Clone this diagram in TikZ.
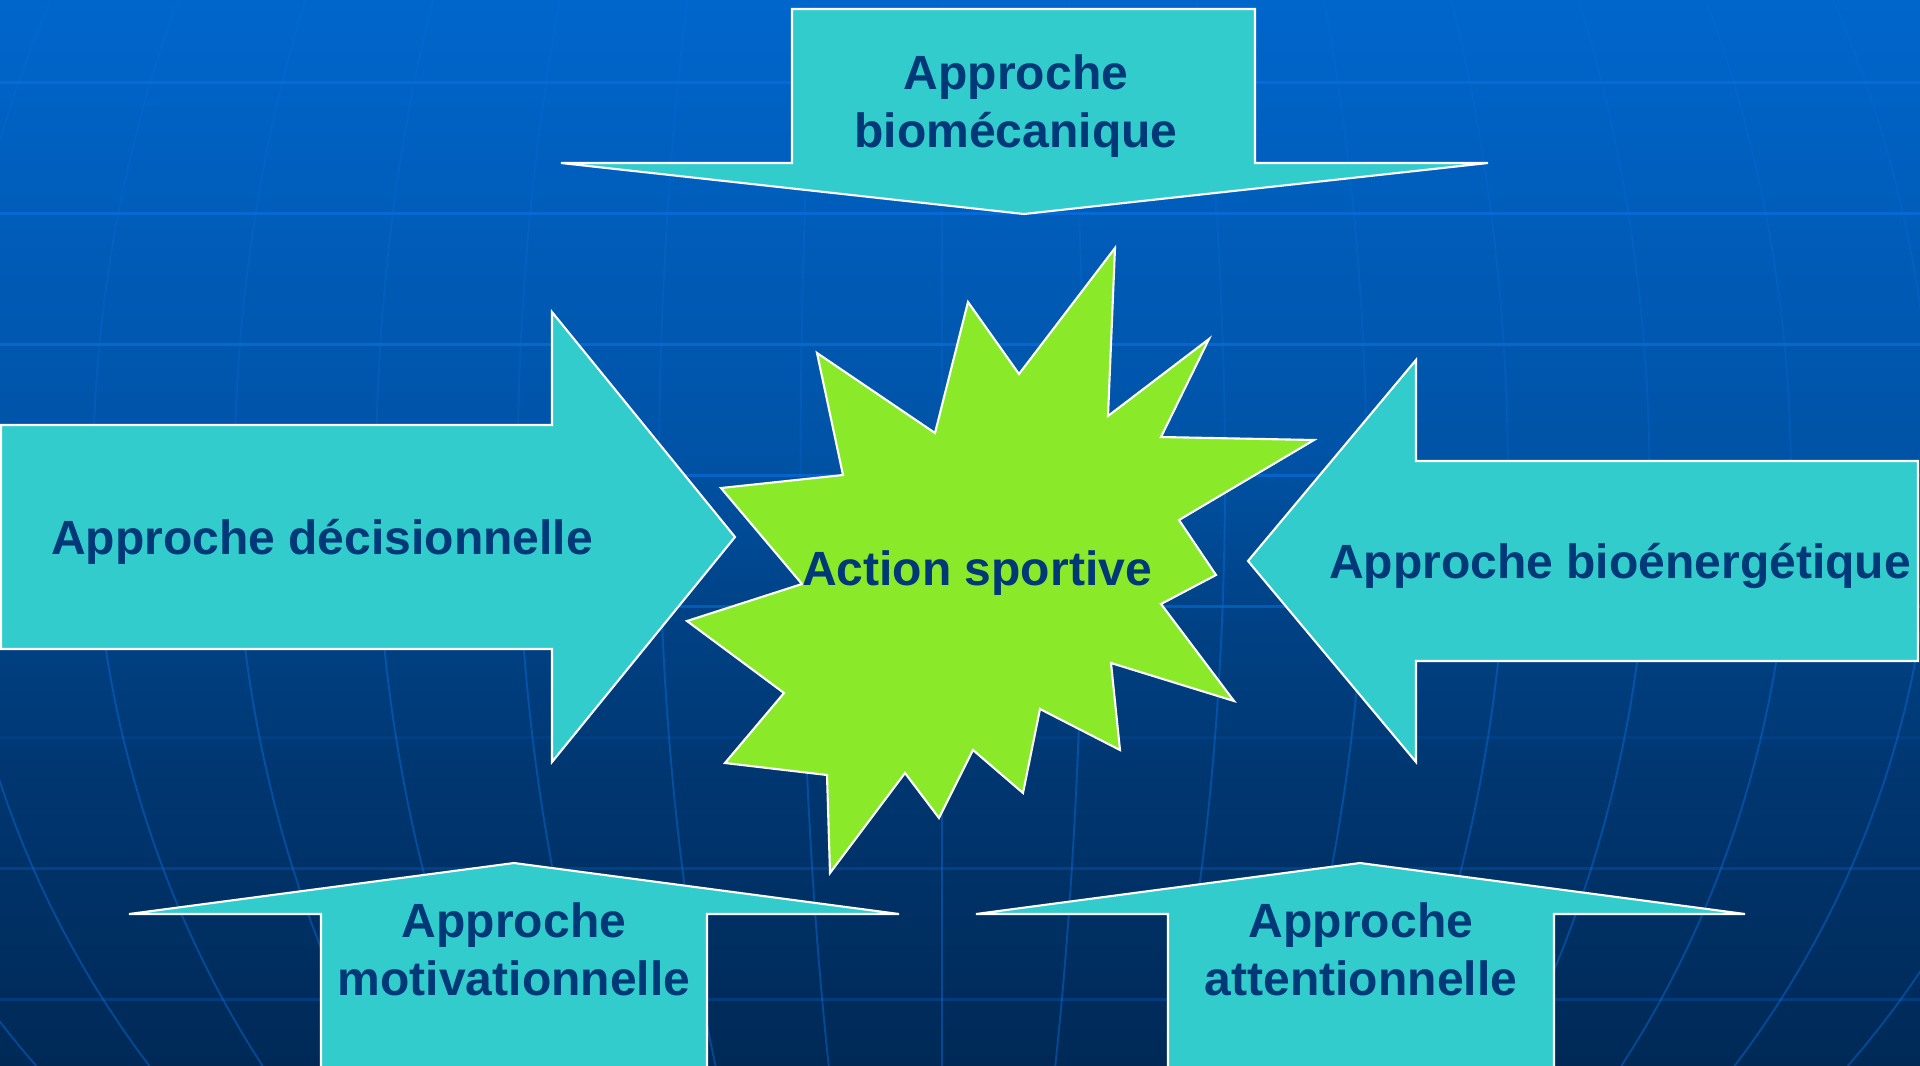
\documentclass[tikz,border=0pt]{standalone}
\usepackage{fontspec}
\setmainfont{Liberation Sans}
\definecolor{bgA}{HTML}{0066CC}
\definecolor{bgB}{HTML}{0053A6}
\definecolor{bgC}{HTML}{004388}
\definecolor{bgD}{HTML}{003670}
\definecolor{bgE}{HTML}{002956}
\definecolor{gridc}{RGB}{10,110,220}
\definecolor{arrowc}{HTML}{33CCCC}
\definecolor{starc}{HTML}{8AEA2A}
\definecolor{txtc}{HTML}{003878}
\tikzset{
  shapebox/.style={fill=arrowc, draw=white, line width=0.6pt, line join=miter},
  starbox/.style={fill=starc, draw=white, line width=0.6pt, line join=miter},
  merid/.style={draw=gridc, opacity=0.45, line width=0.55pt},
  hline/.style={draw=gridc, line width=0.85pt},
  lbl/.style={text=txtc, inner sep=0pt, anchor=base,
    font=\fontsize{13.66pt}{16pt}\selectfont\bfseries}
}
\begin{document}
\begin{tikzpicture}[x=0.01cm, y=-0.01cm]
\useasboundingbox (0,0) rectangle (1920,1066);
\begin{scope}
\clip (0,0) rectangle (1920,1066);
% background gradient
\fill[top color=bgA, bottom color=bgB] (0,-1) rectangle (1920,451);
\fill[top color=bgB, bottom color=bgC] (0,450) rectangle (1920,601);
\fill[top color=bgC, bottom color=bgD] (0,600) rectangle (1920,781);
\fill[top color=bgD, bottom color=bgE] (0,780) rectangle (1920,1067);
% horizontal grid lines
\draw[hline, opacity=0.75] (0,82) -- (1920,82);
\draw[hline, opacity=0.75] (0,213) -- (1920,213);
\draw[hline, opacity=0.7] (0,344) -- (1920,344);
\draw[hline, opacity=0.65] (0,475) -- (1920,475);
\draw[hline, opacity=0.55] (0,606) -- (1920,606);
\draw[hline, opacity=0.12] (0,737) -- (1920,737);
\draw[hline, opacity=0.25] (0,868) -- (1920,868);
\draw[hline, opacity=0.25] (0,999) -- (1920,999);
% meridians
\foreach \n in {-8,...,8}{
  \draw[merid, opacity=0.28] plot[variable=\t, domain=0:480, samples=30]
    ({942+141.5*\n*sqrt(1-((\t-480)/1100)*((\t-480)/1100))}, \t);
  \draw[merid] plot[variable=\t, domain=480:1066, samples=30]
    ({942+141.5*\n*sqrt(1-((\t-480)/977)*((\t-480)/977))}, \t);
}
% arrows
\draw[shapebox] (792,9) -- (1255,9) -- (1255,163) -- (1488,163) -- (1024,214)
  -- (561,163) -- (792,163) -- cycle;
\draw[shapebox] (1,425) -- (552,425) -- (552,312) -- (735,537) -- (552,762)
  -- (552,649) -- (1,649) -- cycle;
\draw[shapebox] (1918,461) -- (1416,461) -- (1416,360) -- (1248,561)
  -- (1416,762) -- (1416,661) -- (1918,661) -- cycle;
\draw[shapebox] (321,1090) -- (321,914) -- (129,914) -- (514,863) -- (899,914)
  -- (707,914) -- (707,1090) -- cycle;
\draw[shapebox] (1168,1090) -- (1168,914) -- (976,914) -- (1360,863)
  -- (1745,914) -- (1554,914) -- (1554,1090) -- cycle;
% star
\draw[starbox] (1115,248) -- (1108,416) -- (1209,339) -- (1161,437)
  -- (1314,440) -- (1179,520) -- (1216,575) -- (1161,604) -- (1234,701)
  -- (1111,663) -- (1120,750) -- (1040,709) -- (1023,793) -- (973,750)
  -- (939,818) -- (905,773) -- (830,873) -- (827,775) -- (725,763)
  -- (784,693) -- (687,621) -- (802,584) -- (721,488) -- (843,475)
  -- (817,353) -- (935,433) -- (968,302) -- (1019,374) -- cycle;
\end{scope}
% labels
\node[lbl] (bioA) at (1016,89) {Approche};
\node[lbl] (bioB) at (1016,147) {biomécanique};
\node[lbl] (dec) at (322,554) {Approche décisionnelle};
\node[lbl] (ener) at (1620,578) {Approche bioénergétique};
\node[lbl] (act) at (977,585) {Action sportive};
\node[lbl] (motA) at (514,937) {Approche};
\node[lbl] (motB) at (514,995) {motivationnelle};
\node[lbl] (attA) at (1361,937) {Approche};
\node[lbl] (attB) at (1361,995) {attentionnelle};
\end{tikzpicture}
\end{document}
